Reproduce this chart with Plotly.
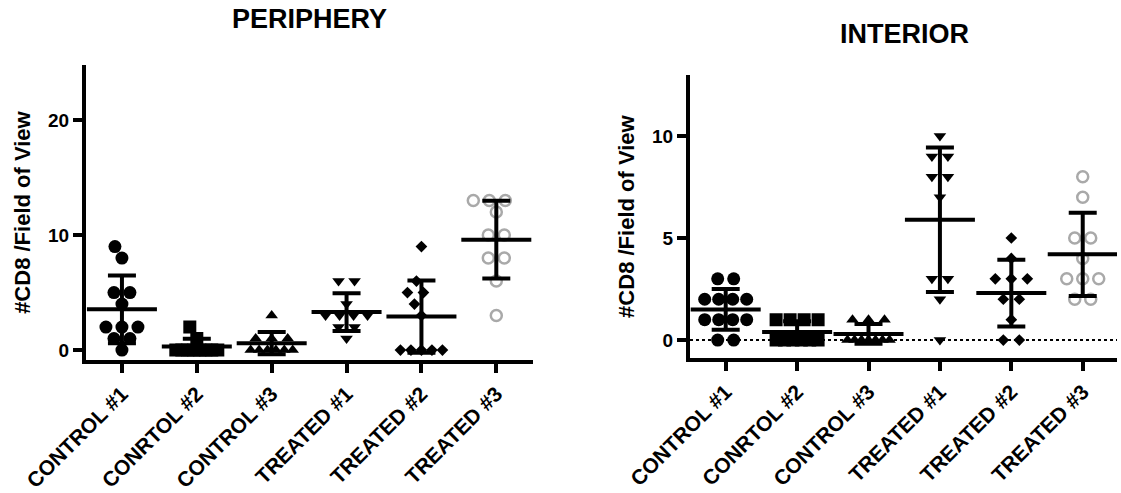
import plotly.graph_objects as go
import numpy as np

# ---------------- data ----------------
categories = ["CONTROL #1", "CONRTOL #2", "CONTROL #3", "TREATED #1", "TREATED #2", "TREATED #3"]

periphery_control1 = [9, 8, 5, 5, 4, 2, 2, 2, 1, 1, 0]
periphery_control2 = [2, 1, 0, 0, 0, 0, 0, 0, 0, 0]
periphery_control3 = [3, 1, 1, 1, 0, 0, 0, 0, 0, 0]
periphery_treated1 = [6, 6, 4, 3, 3, 3, 3, 2, 2, 1]
periphery_treated2 = [9, 6, 5, 5, 4, 3, 0, 0, 0, 0, 0]
periphery_treated3 = [13, 13, 13, 12, 10, 10, 8, 8, 6, 3]

interior_control1 = [3, 3, 2, 2, 2, 2, 1, 1, 1, 1, 0, 0]
interior_control2 = [1, 1, 1, 1, 0, 0, 0, 0, 0, 0]
interior_control3 = [1, 1, 1, 0, 0, 0, 0, 0, 0, 0]
interior_treated1 = [10, 9, 9, 8, 8, 7, 3, 3, 2, 0]
interior_treated2 = [5, 4, 3, 3, 3, 2, 2, 1, 0, 0]
interior_treated3 = [8, 7, 5, 5, 4, 3, 3, 3, 2, 2]

periphery = [periphery_control1, periphery_control2, periphery_control3,
             periphery_treated1, periphery_treated2, periphery_treated3]
interior = [interior_control1, interior_control2, interior_control3,
            interior_treated1, interior_treated2, interior_treated3]

periphery_yticks = [0, 10, 20]
interior_yticks = [0, 5, 10]

y_title = "#CD8 /Field of View"

# ---------------- styling ----------------
W, H = 1121, 493
FONT = "Liberation Sans, Arial, sans-serif"

marker_styles = [
    dict(symbol="circle", size=13, color="black", line=dict(width=0)),
    dict(symbol="square", size=13, color="black", line=dict(width=0)),
    dict(symbol="triangle-up", size=11, color="black", line=dict(width=0)),
    dict(symbol="triangle-down", size=11, color="black", line=dict(width=0)),
    dict(symbol="diamond", size=9, color="black", line=dict(width=0)),
    dict(symbol="circle-open", size=11, color="#a9a9a9", line=dict(width=2.5, color="#a9a9a9")),
]

panels = [
    dict(data=periphery, yticks=periphery_yticks, x0=86, x1=533, ytop=64.8, ybot=360.4,
         xr=(-0.48, 5.49), yr=(-0.9, 24.8), title="PERIPHERY", tx=309, ty=19, dotted=False),
    dict(data=interior, yticks=interior_yticks, x0=690, x1=1117, ytop=74.8, ybot=358.4,
         xr=(-0.5, 5.48), yr=(-0.9, 13.0), title="INTERIOR", tx=904, ty=34, dotted=True),
]


def swarm_offsets(vals, px_per_unit, px_per_cat, S=16.0, maxw=42.0, D=13.0):
    """Spread points of equal value symmetrically (Prism-like scatter)."""
    vals = np.asarray(vals, dtype=float)
    offs = np.zeros(len(vals))
    placed = []  # (xpx, ypx)
    for v in sorted(set(vals.tolist())):
        idx = np.where(vals == v)[0]
        k = len(idx)
        s = 0.0 if k == 1 else min(S, maxw / (k - 1))
        base = [(i - (k - 1) / 2) * s for i in range(k)]
        ypx = v * px_per_unit
        chosen = 0.0
        for sh in [0] + [d * m for m in range(1, 11) for d in (-1, 1)]:
            ok = True
            for b in base:
                for (px, py) in placed:
                    if abs(py - ypx) < D and np.hypot(b + sh - px, ypx - py) < D:
                        ok = False
                        break
                if not ok:
                    break
            if ok:
                chosen = sh
                break
        for j, b in zip(idx, base):
            offs[j] = (b + chosen) / px_per_cat
            placed.append((b + chosen, ypx))
    return offs


fig = go.Figure()
layout_axes = {}
annotations = []
shapes = []

for p_i, p in enumerate(panels):
    sfx = "" if p_i == 0 else str(p_i + 1)
    xa, ya = "x" + sfx, "y" + sfx
    px_per_cat = (p["x1"] - p["x0"]) / (p["xr"][1] - p["xr"][0])
    px_per_unit = (p["ybot"] - p["ytop"]) / (p["yr"][1] - p["yr"][0])

    means, sds = [], []
    for c_i, vals in enumerate(p["data"]):
        offs = swarm_offsets(vals, px_per_unit, px_per_cat)
        fig.add_trace(go.Scatter(
            x=c_i + offs, y=vals, mode="markers", marker=marker_styles[c_i],
            xaxis=xa, yaxis=ya, showlegend=False, hoverinfo="y"))
        means.append(float(np.mean(vals)))
        sds.append(float(np.std(vals, ddof=1)))

    # mean line + SD error bars (drawn on top of points)
    fig.add_trace(go.Scatter(
        x=list(range(len(categories))), y=means, mode="markers",
        marker=dict(symbol="line-ew", size=50, color="black", line=dict(width=4, color="black")),
        error_y=dict(type="data", array=sds, visible=True, color="black", thickness=4, width=14),
        xaxis=xa, yaxis=ya, showlegend=False, hoverinfo="y"))

    if p["dotted"]:
        shapes.append(dict(type="line", xref="paper", yref=ya,
                           x0=p["x0"] / W, x1=p["x1"] / W, y0=0, y1=0,
                           line=dict(color="black", width=2, dash="dot"), layer="below"))

    layout_axes["xaxis" + sfx] = dict(
        domain=[p["x0"] / W, p["x1"] / W], range=list(p["xr"]), anchor=ya, automargin=False,
        tickmode="array", tickvals=list(range(len(categories))), ticktext=categories,
        tickangle=-45, ticks="outside", ticklen=9, tickwidth=4, tickcolor="black",
        showline=True, linewidth=4, linecolor="black", showgrid=False, zeroline=False,
        tickfont=dict(family=FONT, size=21, color="black", weight="bold"))
    layout_axes["yaxis" + sfx] = dict(
        domain=[(H - p["ybot"]) / H, (H - p["ytop"]) / H], range=list(p["yr"]), anchor=xa,
        automargin=False,
        tickmode="array", tickvals=p["yticks"], ticks="outside", ticklen=9, tickwidth=4,
        tickcolor="black", showline=True, linewidth=4, linecolor="black",
        showgrid=False, zeroline=False,
        tickfont=dict(family=FONT, size=19, color="black", weight="bold"),
        title=dict(text=y_title, standoff=12,
                   font=dict(family=FONT, size=22, color="black", weight="bold")))
    annotations.append(dict(text=p["title"], x=p["tx"] / W, y=(H - p["ty"]) / H,
                            xref="paper", yref="paper", xanchor="center", yanchor="middle",
                            showarrow=False,
                            font=dict(family=FONT, size=27, color="black", weight="bold")))

fig.update_layout(
    width=W, height=H, margin=dict(l=0, r=0, t=0, b=0, autoexpand=False),
    paper_bgcolor="white", plot_bgcolor="white",
    annotations=annotations, shapes=shapes, **layout_axes)

fig.write_html("out.html")
